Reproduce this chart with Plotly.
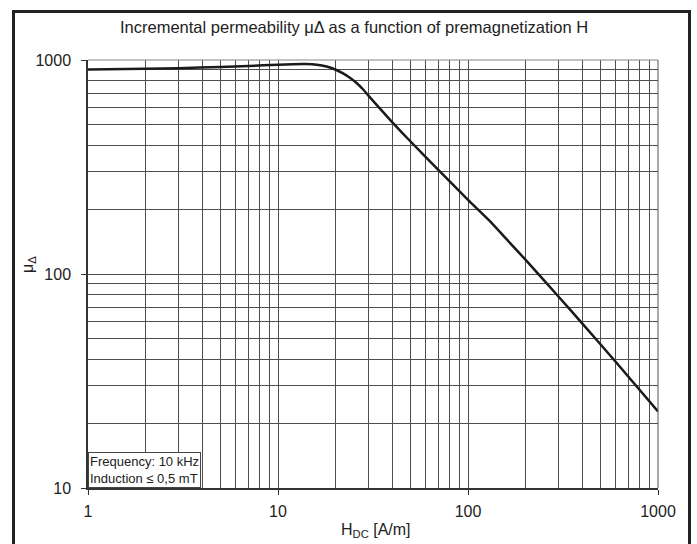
import plotly.graph_objects as go

# Data (H in A/m, incremental permeability)
h_dc = [1, 2, 3, 5, 7, 10, 12, 14, 16, 18, 20, 22, 24, 26, 28, 30, 35, 40, 50, 70,
        100, 130, 160, 200, 300, 400, 600, 1000]
mu_delta = [903, 910, 916, 928, 938, 950, 956, 957, 950, 932, 903, 866, 824, 779, 730, 680,
            583, 511, 415, 306, 222, 177, 145, 117, 78.3, 58.6, 38.8, 22.8]

x_ticks = [1, 10, 100, 1000]
y_ticks = [10, 100, 1000]
x_minor = [m * d for d in (1, 10, 100) for m in range(2, 10)]
y_minor = [m * d for d in (10, 100) for m in range(2, 10)]

FONT = "Liberation Sans, Arial, sans-serif"
GRID = "#4d4d4d"

fig = go.Figure()
fig.add_trace(go.Scatter(x=h_dc, y=mu_delta, mode="lines",
                         line=dict(color="#1a1a1a", width=2.5, shape="spline", smoothing=0.5),
                         showlegend=False, hoverinfo="skip"))

L, R, T, B = 88, 39, 60, 56
W, H = 697, 544
pw, ph = W - L - R, H - T - B

def px2paper_x(px):
    return (px - L) / pw

def py2paper_y(py):
    return (H - B - py) / ph

fig.update_layout(
    width=W, height=H,
    margin=dict(l=L, r=R, t=T, b=B),
    paper_bgcolor="white", plot_bgcolor="white",
    font=dict(family=FONT, color="#222222"),
    xaxis=dict(type="log", range=[0, 3], tickvals=x_ticks, ticktext=[str(v) for v in x_ticks],
               showgrid=True, gridcolor=GRID, gridwidth=1,
               minor=dict(tickvals=x_minor, showgrid=True, gridcolor=GRID, gridwidth=1, ticks=""),
               ticks="outside", ticklen=5, tickcolor="#333", tickfont=dict(size=16, color="#222"),
               showline=True, linecolor="#333", linewidth=1.5, zeroline=False,
               ticklabelstandoff=3),
    yaxis=dict(type="log", range=[1, 3], tickvals=y_ticks, ticktext=[str(v) for v in y_ticks],
               showgrid=True, gridcolor=GRID, gridwidth=1,
               minor=dict(tickvals=y_minor, showgrid=True, gridcolor=GRID, gridwidth=1, ticks=""),
               ticks="outside", ticklen=5, tickcolor="#333", tickfont=dict(size=16, color="#222"),
               showline=True, linecolor="#333", linewidth=1.5, zeroline=False,
               ticklabelstandoff=7),
    shapes=[
        dict(type="rect", xref="paper", yref="paper",
             x0=px2paper_x(13.5), x1=px2paper_x(689.5),
             y0=py2paper_y(560), y1=py2paper_y(11.5),
             line=dict(color="#222222", width=3), fillcolor="rgba(0,0,0,0)", layer="above"),
        dict(type="line", xref="paper", yref="paper", x0=0, x1=1, y0=1, y1=1,
             line=dict(color="#888888", width=1)),
        dict(type="line", xref="paper", yref="paper", x0=1, x1=1, y0=0, y1=1,
             line=dict(color="#555555", width=1)),
    ],
    annotations=[
        dict(text="Incremental permeability μΔ as a function of premagnetization H",
             xref="paper", yref="paper", x=px2paper_x(354), y=py2paper_y(27),
             xanchor="center", yanchor="middle", showarrow=False,
             font=dict(size=16.5, color="#222")),
        dict(text="μ<sub>Δ</sub>", xref="paper", yref="paper",
             x=px2paper_x(28), y=py2paper_y(265), textangle=-90,
             xanchor="center", yanchor="middle", showarrow=False,
             font=dict(size=16, color="#222")),
        dict(text="H<sub>DC</sub> [A/m]", xref="paper", yref="paper",
             x=px2paper_x(376), y=py2paper_y(530),
             xanchor="center", yanchor="middle", showarrow=False,
             font=dict(size=16, color="#222")),
        dict(text="Frequency: 10 kHz<br>Induction ≤ 0,5 mT", xref="paper", yref="paper",
             x=0, y=0, xanchor="left", yanchor="bottom", align="left", showarrow=False,
             bgcolor="white", bordercolor="#444", borderwidth=1, borderpad=1,
             font=dict(size=13, color="#222")),
    ],
)

fig.write_html("out.html", config={"displayModeBar": False},
               post_script="document.body.style.margin='0';document.body.style.overflow='hidden';")
